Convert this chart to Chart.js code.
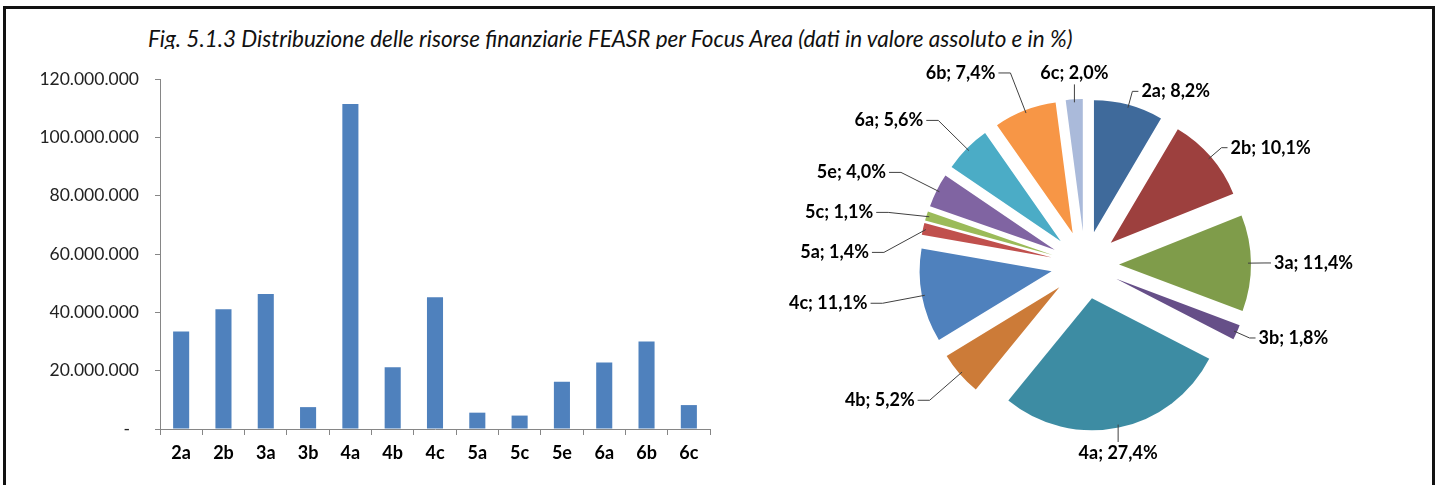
<!DOCTYPE html>
<html>
<head>
<meta charset="utf-8">
<script src="https://cdn.jsdelivr.net/npm/chart.js@4.4.1/dist/chart.umd.min.js"></script>
<style>
    html, body { margin: 0; padding: 0; background: #fff; }
    body { width: 1437px; height: 485px; position: relative; overflow: hidden; }
    #frame {
        position: absolute; left: 3px; top: 6px; width: 1426px; height: 500px;
        border: 3px solid #111; border-bottom: none;
    }
    #title {
        position: absolute; left: 148px; top: 26px; height: 23px; overflow: hidden;
        font-family: Lato, 'Open Sans', sans-serif; font-style: italic; font-size: 22.5px;
        line-height: 26px; color: #111; white-space: nowrap;
    }
    #barChart { position: absolute; left: 0; top: 0; }
    #pieChart { position: absolute; left: 700px; top: 0; }
</style>
</head>
<body>
<div id="frame"></div>
<div id="title">Fig. 5.1.3 Distribuzione delle risorse finanziarie FEASR per Focus Area (dati in valore assoluto e in %)</div>
<canvas id="barChart" width="730" height="485"></canvas>
<canvas id="pieChart" width="737" height="485"></canvas>
<script>
// Data
const focusAreas = ['2a', '2b', '3a', '3b', '4a', '4b', '4c', '5a', '5c', '5e', '6a', '6b', '6c'];
const resources = [33400000, 41100000, 46300000, 7500000, 111400000, 21200000, 45200000,
                   5600000, 4600000, 16200000, 22800000, 30000000, 8200000];
const sharePct = [8.2, 10.1, 11.4, 1.8, 27.4, 5.2, 11.1, 1.4, 1.1, 4.0, 5.6, 7.4, 2.0];
const yMax = 120000000;
const yStep = 20000000;

const pieColors = [
    '#3F6A9B', '#9D403E', '#7F9C4A', '#664F88', '#3D8CA3', '#CC7B38', '#4F81BD',
    '#C0504D', '#9BBB59', '#8064A2', '#4BACC6', '#F79646', '#AABADA'
];

const FONT = 'Lato, "Open Sans", sans-serif';
const EXPLODE = 34;

function formatEuro(v) {
    if (v === 0) return '-\u00A0\u00A0';
    return String(Math.round(v)).replace(/\B(?=(\d{3})+(?!\d))/g, '.');
}

// Bar chart
new Chart(document.getElementById('barChart').getContext('2d'), {
    type: 'bar',
    data: {
        labels: focusAreas,
        datasets: [{
            data: resources,
            backgroundColor: '#4F81BD',
            borderWidth: 0,
            barPercentage: 0.38,
            categoryPercentage: 1
        }]
    },
    options: {
        responsive: false,
        animation: false,
        layout: { padding: { top: 79, right: 20, left: 0, bottom: 0 } },
        plugins: { legend: { display: false }, tooltip: { enabled: false } },
        scales: {
            x: {
                grid: { display: true, drawOnChartArea: false, tickLength: 6, color: '#868686', offset: true },
                border: { color: '#868686' },
                ticks: { font: { family: FONT, weight: 'bold', size: 18 }, color: '#000', padding: 7, maxRotation: 0 },
                afterFit: scale => { scale.height = 56; }
            },
            y: {
                min: 0,
                max: yMax,
                ticks: { stepSize: yStep, callback: formatEuro, font: { family: FONT, size: 17.5 }, color: '#222', padding: 16 },
                grid: { drawOnChartArea: false, tickLength: 5, color: '#868686' },
                border: { color: '#868686' },
                afterFit: scale => { scale.width = 160; }
            }
        }
    }
});

// Pie: push every slice out along its own mid angle
const explodePlugin = {
    id: 'explode',
    afterDatasetUpdate(chart) {
        chart.getDatasetMeta(0).data.forEach(arc => {
            if (arc._exploded) return;
            const baseDraw = arc.draw;
            arc.draw = function(ctx) {
                const mid = (this.startAngle + this.endAngle) / 2;
                ctx.save();
                ctx.translate(Math.cos(mid) * EXPLODE, Math.sin(mid) * EXPLODE);
                baseDraw.call(this, ctx);
                ctx.restore();
            };
            arc._exploded = true;
        });
    }
};

// Pie: outside labels with leader lines
const pieLabelsPlugin = {
    id: 'pieLabels',
    afterDatasetsDraw(chart) {
        const ctx = chart.ctx;
        const arcs = chart.getDatasetMeta(0).data;
        const items = arcs.map((arc, i) => {
            const mid = (arc.startAngle + arc.endAngle) / 2;
            const dx = Math.cos(mid), dy = Math.sin(mid);
            const rOut = arc.outerRadius + EXPLODE;
            const side = Math.abs(dx) < 0.22 ? 0 : (dx > 0 ? 1 : -1);
            // labels on the left hang further out, like the original
            const ext = side === 0 ? 26 : (side > 0 ? 14 : 40);
            return {
                text: `${focusAreas[i]}; ${sharePct[i].toFixed(1).replace('.', ',')}%`,
                ax: arc.x + dx * (rOut - 3), ay: arc.y + dy * (rOut - 3),
                lx: arc.x + dx * (rOut + ext), ly: arc.y + dy * (rOut + ext),
                side, dy
            };
        });

        // spread labels on each side so they do not overlap
        [-1, 1].forEach(s => {
            const group = items.filter(it => it.side === s).sort((a, b) => a.ly - b.ly);
            for (let k = 1; k < group.length; k++) {
                group[k].ly = Math.max(group[k].ly, group[k - 1].ly + 40);
            }
        });

        ctx.save();
        ctx.font = `bold 18px ${FONT}`;
        ctx.fillStyle = '#000';
        ctx.strokeStyle = '#404040';
        ctx.lineWidth = 1;
        items.forEach(it => {
            ctx.beginPath();
            if (it.side === 0) {
                const endY = it.dy < 0 ? it.ly + 11 : it.ly - 11;
                ctx.moveTo(it.ax, it.ay);
                ctx.lineTo(it.ax, endY);
                ctx.stroke();
                ctx.textAlign = 'center';
                ctx.textBaseline = 'middle';
                ctx.fillText(it.text, it.ax, it.ly);
            } else {
                const hx = it.lx + it.side * (it.side > 0 ? 6 : 12);
                ctx.moveTo(it.ax, it.ay);
                ctx.lineTo(it.lx, it.ly);
                ctx.lineTo(hx, it.ly);
                ctx.stroke();
                ctx.textAlign = it.side > 0 ? 'left' : 'right';
                ctx.textBaseline = 'middle';
                ctx.fillText(it.text, hx + it.side * 3, it.ly);
            }
        });
        ctx.restore();
    }
};

new Chart(document.getElementById('pieChart').getContext('2d'), {
    type: 'pie',
    data: {
        labels: focusAreas,
        datasets: [{
            data: sharePct,
            backgroundColor: pieColors,
            borderWidth: 0,
            clip: false
        }]
    },
    options: {
        responsive: false,
        animation: false,
        radius: 132,
        layout: { padding: { left: 215, right: 182, top: 95, bottom: 50 } },
        plugins: { legend: { display: false }, tooltip: { enabled: false } }
    },
    plugins: [explodePlugin, pieLabelsPlugin]
});
</script>
</body>
</html>
